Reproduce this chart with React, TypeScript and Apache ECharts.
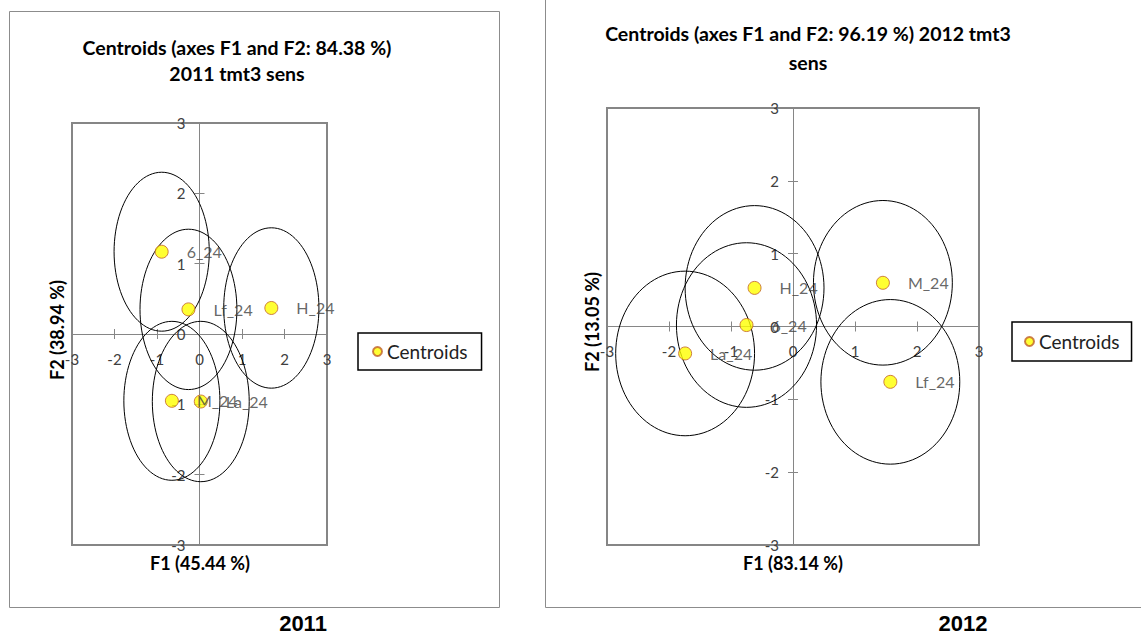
import React, { useEffect, useRef } from "react";
import * as echarts from "echarts";

// Centroids of the 2011 treatment groups (F1/F2 factor scores)
const groups2011 = ["6_24", "Lf_24", "H_24", "M_24", "La_24"];
const f1Scores2011 = [-0.89, -0.26, 1.69, -0.65, 0.03];
const f2Scores2011 = [1.17, 0.35, 0.37, -0.95, -0.96];
// Confidence ellipse half-widths along F1 and F2
const ellipseF1_2011 = [1.12, 1.14, 1.12, 1.13, 1.14];
const ellipseF2_2011 = [1.13, 1.14, 1.14, 1.13, 1.14];

// Centroids of the 2012 treatment groups
const groups2012 = ["H_24", "6_24", "La_24", "M_24", "Lf_24"];
const f1Scores2012 = [-0.62, -0.75, -1.74, 1.45, 1.57];
const f2Scores2012 = [0.53, 0.02, -0.37, 0.6, -0.76];
const ellipseF1_2012 = [1.12, 1.13, 1.12, 1.12, 1.12];
const ellipseF2_2012 = [1.13, 1.13, 1.13, 1.13, 1.13];

const FONT = 'Lato, "Open Sans", "Noto Sans", sans-serif';
const AXIS_GRAY = "#868686";
const LABEL_GRAY = "#404040";

// Plot rectangles of the two factor maps
const GRID_2011 = { left: 72, top: 123, width: 255, height: 422 };
const GRID_2012 = { left: 607, top: 108, width: 372, height: 437 };

function scatterData(names: string[], xs: number[], ys: number[]) {
  return names.map((n, i) => ({ name: n, value: [xs[i], ys[i]] }));
}

function ellipseData(xs: number[], ys: number[], rx: number[], ry: number[]) {
  return xs.map((x, i) => [x, ys[i], rx[i], ry[i]]);
}

const renderEllipse = (params: any, api: any) => {
  const cx = api.value(0);
  const cy = api.value(1);
  const rx = api.value(2);
  const ry = api.value(3);
  const points: number[][] = [];
  const steps = 96;
  for (let k = 0; k < steps; k++) {
    const t = (k / steps) * Math.PI * 2;
    points.push(api.coord([cx + rx * Math.cos(t), cy + ry * Math.sin(t)]));
  }
  return {
    type: "polygon",
    shape: { points },
    style: { fill: "none", stroke: "#000", lineWidth: 1 },
    silent: true,
  };
};

// Axes cross at the origin: the range is symmetric, so the axis sits half a grid inwards
function valueAxis(gridIndex: number, position: string, offset: number, margin: number) {
  return {
    type: "value",
    gridIndex,
    position,
    min: -3,
    max: 3,
    interval: 1,
    offset,
    axisLine: { show: true, onZero: false, lineStyle: { color: AXIS_GRAY, width: 1 } },
    axisTick: { show: true, length: 5, lineStyle: { color: AXIS_GRAY } },
    axisLabel: {
      color: LABEL_GRAY,
      fontFamily: FONT,
      fontSize: 15,
      margin,
      showMinLabel: true,
      showMaxLabel: true,
    },
    splitLine: { show: false },
  };
}

// Companion axis drawing the inner half of each cross-shaped tick
function innerTickAxis(gridIndex: number, position: string, offset: number) {
  return {
    type: "value",
    gridIndex,
    position,
    min: -3,
    max: 3,
    interval: 1,
    offset,
    axisLine: { show: false, onZero: false },
    axisTick: { show: true, inside: true, length: 5, lineStyle: { color: AXIS_GRAY } },
    axisLabel: { show: false },
    splitLine: { show: false },
  };
}

const pointStyle = {
  color: "#FFFF00",
  borderColor: "#C0602A",
  borderWidth: 1,
};

function centroidSeries(idx: number, names: string[], xs: number[], ys: number[]) {
  return {
    name: "Centroids",
    type: "scatter",
    xAxisIndex: idx,
    yAxisIndex: idx,
    symbol: "circle",
    symbolSize: 13,
    itemStyle: pointStyle,
    z: 5,
    label: {
      show: true,
      position: "right",
      distance: 18,
      formatter: "{b}",
      color: LABEL_GRAY,
      fontFamily: FONT,
      fontSize: 16,
    },
    data: scatterData(names, xs, ys),
  };
}

function ellipseSeries(idx: number, xs: number[], ys: number[], rx: number[], ry: number[]) {
  return {
    name: "ellipses",
    type: "custom",
    xAxisIndex: idx,
    yAxisIndex: idx,
    renderItem: renderEllipse,
    encode: { x: 0, y: 1 },
    z: 3,
    silent: true,
    data: ellipseData(xs, ys, rx, ry),
  };
}

function textEl(text: string, x: number, y: number, size: number, extra: any = {}) {
  return {
    type: "text",
    x,
    y,
    silent: true,
    ...extra,
    style: {
      text,
      fill: "#000",
      font: `bold ${size}px ${FONT}`,
      textAlign: "center",
      textVerticalAlign: "middle",
    },
  };
}

function yearEl(text: string, x: number, y: number) {
  return {
    type: "text",
    x,
    y,
    silent: true,
    style: {
      text,
      fill: "#000",
      font: 'bold 22px "Liberation Sans Narrow", "Liberation Sans", Arial, sans-serif',
      textAlign: "center",
      textVerticalAlign: "middle",
    },
  };
}

export default function App() {
  const ref = useRef<HTMLDivElement>(null);

  useEffect(() => {
    if (!ref.current) return;
    const chart = echarts.init(ref.current, undefined, { renderer: "svg" });

    const legendBase = {
      data: ["Centroids"],
      orient: "vertical",
      icon: "circle",
      itemWidth: 9,
      itemHeight: 9,
      itemGap: 0,
      borderColor: "#000",
      borderWidth: 1.5,
      backgroundColor: "#fff",
      selectedMode: false,
      textStyle: { fontFamily: FONT, fontSize: 19, color: "#222" },
    };

    chart.setOption({
      animation: false,
      backgroundColor: "#fff",
      grid: [
        { ...GRID_2011, show: true, borderColor: AXIS_GRAY, borderWidth: 2 },
        { ...GRID_2012, show: true, borderColor: AXIS_GRAY, borderWidth: 2 },
      ],
      xAxis: [
        valueAxis(0, "bottom", -GRID_2011.height / 2, 17),
        valueAxis(1, "bottom", -GRID_2012.height / 2, 17),
        innerTickAxis(0, "bottom", -GRID_2011.height / 2),
        innerTickAxis(1, "bottom", -GRID_2012.height / 2),
      ],
      yAxis: [
        valueAxis(0, "left", -GRID_2011.width / 2, 14),
        valueAxis(1, "left", -GRID_2012.width / 2, 14),
        innerTickAxis(0, "left", -GRID_2011.width / 2),
        innerTickAxis(1, "left", -GRID_2012.width / 2),
      ],
      legend: [
        { ...legendBase, left: 358, top: 333, padding: [9, 14, 9, 14] },
        { ...legendBase, left: 1012, top: 322, padding: [10, 12, 10, 12] },
      ],
      series: [
        ellipseSeries(0, f1Scores2011, f2Scores2011, ellipseF1_2011, ellipseF2_2011),
        centroidSeries(0, groups2011, f1Scores2011, f2Scores2011),
        ellipseSeries(1, f1Scores2012, f2Scores2012, ellipseF1_2012, ellipseF2_2012),
        centroidSeries(1, groups2012, f1Scores2012, f2Scores2012),
      ],
      graphic: [
        {
          type: "rect",
          silent: true,
          z: -10,
          shape: { x: 9.5, y: 11.5, width: 490, height: 596 },
          style: { fill: "none", stroke: "#8c8c8c", lineWidth: 1 },
        },
        {
          type: "rect",
          silent: true,
          z: -10,
          shape: { x: 545.5, y: -5, width: 620, height: 612.5 },
          style: { fill: "none", stroke: "#8c8c8c", lineWidth: 1 },
        },
        textEl("Centroids (axes F1 and F2: 84.38 %)", 237, 47, 19.5),
        textEl("2011 tmt3 sens", 237, 73, 19.5),
        textEl("Centroids (axes F1 and F2: 96.19 %) 2012 tmt3", 808, 33, 19.5),
        textEl("sens", 808, 62, 19.5),
        textEl("F1 (45.44 %)", 200, 563, 18),
        textEl("F1 (83.14 %)", 793, 563, 18),
        textEl("F2 (38.94 %)", 57, 330, 18, { rotation: Math.PI / 2 }),
        textEl("F2 (13.05 %)", 592, 322, 18, { rotation: Math.PI / 2 }),
        yearEl("2011", 303, 623),
        yearEl("2012", 963, 623),
      ],
    });

    return () => chart.dispose();
  }, []);

  return (
    <div
      ref={ref}
      style={{ position: "fixed", left: 0, top: 0, width: 1141, height: 635 }}
    />
  );
}
